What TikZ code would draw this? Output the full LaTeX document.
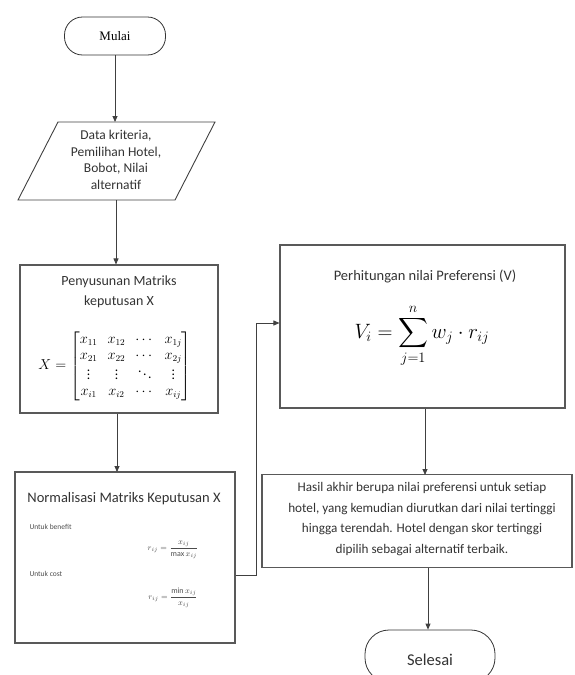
\documentclass[tikz,border=0pt]{standalone}
\usepackage{amsmath}
\usepackage{fontspec}
\setmainfont{Carlito}
\newfontfamily\serifft{Liberation Serif}
\usetikzlibrary{arrows.meta}
\begin{document}
\begin{tikzpicture}[x=1pt,y=-1pt,
  line/.style={draw=black!75, line width=0.8pt},
  flow/.style={line, -{Triangle[length=6pt,width=5pt]}},
  procbox/.style={draw=black!65, line width=1.1pt, rectangle, inner sep=0pt},
  term/.style={draw=black!80, line width=0.8pt, rounded corners=18pt, inner sep=0pt},
  txt/.style={font=\fontsize{11.5}{15}\selectfont, align=center, text=black!80}]
\useasboundingbox (0,0) rectangle (574,675);

% Mulai
\node[term, minimum width=101pt, minimum height=38pt] (mulai) at (115,36) {\fontsize{13}{15}\serifft\selectfont Mulai};

% Data parallelogram
\draw[line, line width=0.9pt] (58,122) -- (215,122) -- (175,200) -- (18,200) -- cycle;
\coordinate (dtop) at (115,122);
\coordinate (dbot) at (116,200);
\node[txt, font=\fontsize{13.5}{16.5}\selectfont] (data) at (116,160) {Data kriteria,\\Pemilihan Hotel,\\Bobot, Nilai\\alternatif};

% Penyusunan
\node[procbox, minimum width=198pt, minimum height=148pt] (susun) at (119,339) {};
\node[txt, font=\fontsize{14}{20}\selectfont] (susunt) at (119,292) {Penyusunan Matriks\\keputusan X};
\node (matx) at (115,366) {\fontsize{13.5}{16}\selectfont$\renewcommand{\arraystretch}{1.0}X=\begin{bmatrix} x_{11} & x_{12} & \cdots & x_{1j}\\ x_{21} & x_{22} & \cdots & x_{2j}\\ \vdots & \vdots & \ddots & \vdots\\ x_{i1} & x_{i2} & \cdots & x_{ij}\end{bmatrix}$};

% Normalisasi
\node[procbox, minimum width=220pt, minimum height=171pt] (norm) at (125,557.5) {};
\node[txt, font=\fontsize{14.5}{17}\selectfont] (normt) at (124,499) {Normalisasi Matriks Keputusan X};
\node[font=\fontsize{7.5}{9}\selectfont, anchor=west, text=black!70] (ben) at (26,527) {Untuk benefit};
\node[font=\fontsize{8}{9}\selectfont, text=black!70] (fben) at (173,550) {$r_{ij}=\dfrac{x_{ij}}{\max x_{ij}}$};
\node[font=\fontsize{7.5}{9}\selectfont, anchor=west, text=black!70] (cost) at (26,574) {Untuk cost};
\node[font=\fontsize{8}{9}\selectfont, text=black!70] (fcost) at (173,598) {$r_{ij}=\dfrac{\min x_{ij}}{x_{ij}}$};

% Perhitungan
\node[procbox, minimum width=285pt, minimum height=163pt] (hitung) at (422.5,326.5) {};
\node[txt, font=\fontsize{14.5}{17}\selectfont] (hitungt) at (425,276) {Perhitungan nilai Preferensi (V)};
\node (fv) at (422,336) {\fontsize{20}{24}\selectfont$\displaystyle V_i=\sum_{j=1}^{n} w_j\cdot r_{ij}$};

% Hasil
\node[procbox, minimum width=310pt, minimum height=93pt] (hasil) at (417,521) {};
\node[txt, font=\fontsize{13.2}{20.5}\selectfont] (hasilt) at (422,519) {Hasil akhir berupa nilai preferensi untuk setiap\\hotel, yang kemudian diurutkan dari nilai tertinggi\\hingga terendah. Hotel dengan skor tertinggi\\dipilih sebagai alternatif terbaik.};

% Selesai
\node[term, minimum width=130pt, minimum height=52pt, rounded corners=24pt] (selesai) at (430,656) {};
\node[txt, font=\fontsize{16.5}{18}\selectfont] (selesait) at (430,660) {Selesai};

% connectors
\draw[flow] (mulai.south) -- (dtop);
\draw[flow] (dbot) -- (dbot |- susun.north);
\draw[flow] (susun.south -| 117,0) -- (117,472);
\coordinate (k1) at (256,575);
\coordinate (k2) at (256,323);
\draw[flow] (norm.east |- k1) -- (k1) -- (k2) -- (hitung.west |- k2);
\draw[flow] (hitung.south -| 425,0) -- (425,475);
\draw[flow] (hasil.south -| 428,0) -- (selesai.north -| 428,0);
\end{tikzpicture}
\end{document}
